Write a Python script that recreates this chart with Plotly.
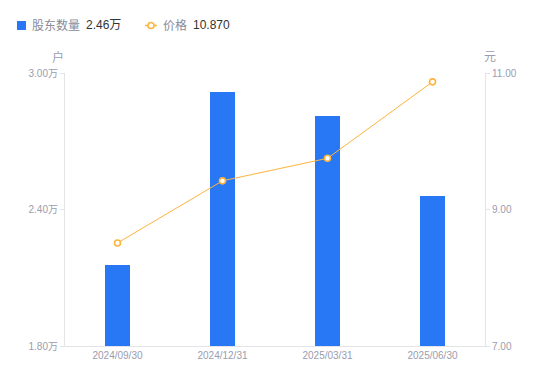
import plotly.graph_objects as go

categories = ["2024/09/30", "2024/12/31", "2025/03/31", "2025/06/30"]
holders_wan = [2.156, 2.917, 2.81, 2.46]
price = [8.51, 9.42, 9.75, 10.87]
left_tickvals = [1.80, 2.40, 3.00]
left_ticktext = ["1.80万", "2.40万", "3.00万"]
right_tickvals = [7.0, 9.0, 11.0]
right_ticktext = ["7.00", "9.00", "11.00"]
legend_names = ["股东数量", "价格"]
legend_values = ["2.46万", "10.870"]

FONT = "Liberation Sans, Arial, Noto Sans CJK SC, sans-serif"
GRAY = "#9b9caf"
AXIS = "#e3e4e8"
BLUE = "#2878f5"
ORANGE = "#fdb43e"

W, H = 550, 381
L, R, T, B = 65, 65, 73, 35
PW, PH = W - L - R, H - T - B


def px(x):
    return (x - L) / PW


def py(y):
    return (H - B - y) / PH


fig = go.Figure()
fig.add_trace(go.Bar(
    x=categories, y=holders_wan, width=0.24,
    marker=dict(color=BLUE, line=dict(width=0)),
    name=legend_names[0], yaxis="y",
))
fig.add_trace(go.Scatter(
    x=categories, y=price, mode="lines+markers",
    line=dict(color=ORANGE, width=1),
    marker=dict(symbol="circle", size=6, color="white",
                line=dict(color=ORANGE, width=1.6)),
    name=legend_names[1], yaxis="y2",
))

LY = 25.5
annotations = [
    dict(text="户", xref="paper", yref="paper", x=px(66), y=py(57.5),
         showarrow=False, xanchor="right", yanchor="middle",
         font=dict(size=12, color=GRAY)),
    dict(text="元", xref="paper", yref="paper", x=px(482), y=py(57.5),
         showarrow=False, xanchor="left", yanchor="middle",
         font=dict(size=12, color=GRAY)),
]
for xpos, txt, col in [(30, legend_names[0], "#8a8b99"), (84, legend_values[0], "#333333"),
                       (161, legend_names[1], "#8a8b99"), (191, legend_values[1], "#333333")]:
    annotations.append(dict(text=txt, xref="paper", yref="paper", x=px(xpos), y=py(LY),
                            showarrow=False, xanchor="left", yanchor="middle",
                            font=dict(size=12, color=col)))

shapes = [
    dict(type="rect", xref="paper", yref="paper", x0=px(17), x1=px(26),
         y0=py(30), y1=py(21), fillcolor=BLUE, line=dict(width=0)),
    dict(type="line", xref="paper", yref="paper", x0=px(145), x1=px(157),
         y0=py(LY), y1=py(LY), line=dict(color=ORANGE, width=1.5)),
    dict(type="circle", xref="paper", yref="paper", x0=px(148), x1=px(154),
         y0=py(LY + 3), y1=py(LY - 3), fillcolor="white",
         line=dict(color=ORANGE, width=1.6)),
]

fig.update_layout(
    width=W, height=H,
    margin=dict(l=L, r=R, t=T, b=B, autoexpand=False),
    paper_bgcolor="white", plot_bgcolor="white",
    font=dict(family=FONT, size=12, color=GRAY),
    bargap=0,
    showlegend=False,
    xaxis=dict(type="category", range=[-0.5, 3.5], showline=True, linecolor=AXIS,
               linewidth=1, ticks="", showgrid=False, zeroline=False,
               tickfont=dict(size=10, color=GRAY)),
    yaxis=dict(range=[1.80, 3.00], tickvals=left_tickvals, ticktext=left_ticktext,
               showline=True, linecolor=AXIS, linewidth=1, ticks="outside",
               ticklen=4, tickcolor=AXIS, showgrid=False, zeroline=False,
               tickfont=dict(size=10, color=GRAY)),
    yaxis2=dict(range=[7.0, 11.0], tickvals=right_tickvals, ticktext=right_ticktext,
                overlaying="y", side="right", showline=True, linecolor=AXIS,
                linewidth=1, ticks="outside", ticklen=4, tickcolor=AXIS,
                showgrid=False, zeroline=False,
                tickfont=dict(size=10, color=GRAY)),
    annotations=annotations,
    shapes=shapes,
)

fig.write_html("out.html", config={"displayModeBar": False},
               post_script="document.body.style.margin='0';document.body.style.padding='0';")
